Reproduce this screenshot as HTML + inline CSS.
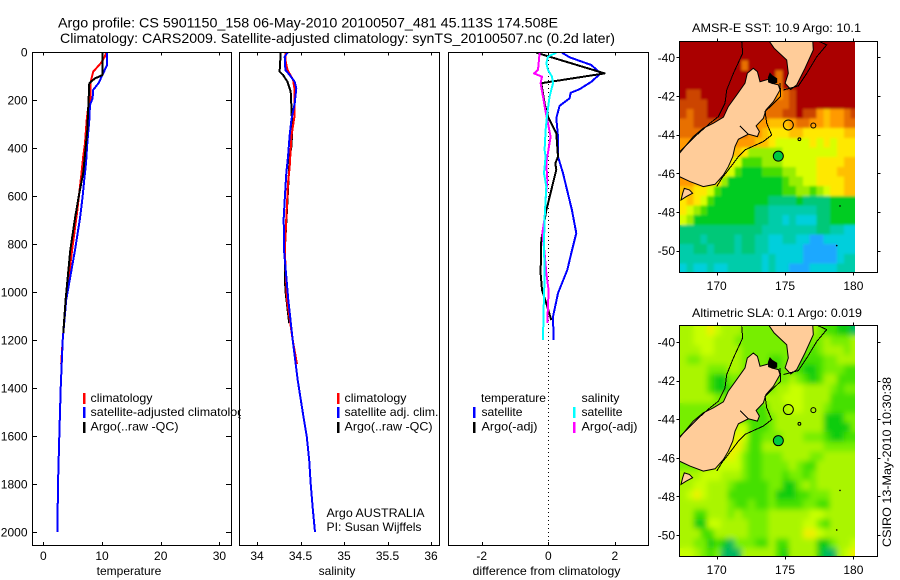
<!DOCTYPE html>
<html lang="en">
<head>
<meta charset="utf-8">
<title>Argo profile chart</title>
<style>
html,body{margin:0;padding:0;background:#fff;}
svg{display:block;font-family:"Liberation Sans",sans-serif;font-size:12px;fill:#000;}
.frame{fill:none;stroke:#000;stroke-width:1;shape-rendering:crispEdges;}
.tick{stroke:#000;stroke-width:1;shape-rendering:crispEdges;}
.series{fill:none;stroke-width:2;shape-rendering:crispEdges;stroke-linejoin:round;}
.bar{shape-rendering:crispEdges;}
</style>
</head>
<body>
<svg id="chart" xmlns="http://www.w3.org/2000/svg" width="900" height="580" viewBox="0 0 900 580">
<defs>
<clipPath id="temp-clip"><rect x="32" y="52" width="199.5" height="493"/></clipPath>
<clipPath id="sal-clip"><rect x="239.5" y="52" width="200" height="493"/></clipPath>
<clipPath id="diff-clip"><rect x="448.5" y="52" width="200" height="493"/></clipPath>
<clipPath id="legend-clip"><rect x="80" y="385" width="161" height="60"/></clipPath>
<clipPath id="sst-clip"><rect x="679.5" y="41.5" width="175.5" height="231.5"/></clipPath>
<clipPath id="sla-clip"><rect x="679.5" y="325.5" width="175.5" height="231.5"/></clipPath>
<filter id="blur-sst" x="-5%" y="-5%" width="110%" height="110%"><feGaussianBlur stdDeviation="1.3"/></filter>
<filter id="blur-sla" x="-5%" y="-5%" width="110%" height="110%"><feGaussianBlur stdDeviation="3"/></filter>
</defs>

<text x="58" y="27.5" font-size="14" textLength="500" lengthAdjust="spacingAndGlyphs">Argo profile: CS 5901150_158 06-May-2010 20100507_481 45.113S 174.508E</text>
<text x="60" y="43" font-size="14" textLength="555" lengthAdjust="spacingAndGlyphs">Climatology: CARS2009. Satellite-adjusted climatology: synTS_20100507.nc (0.2d later)</text>

<g id="temp-series" clip-path="url(#temp-clip)"></g>
<g id="sal-series" clip-path="url(#sal-clip)"></g>
<g id="diff-series" clip-path="url(#diff-clip)"></g>
<g id="ticks"></g>

<rect class="frame" x="32.5" y="52.5" width="199" height="493"/>
<rect class="frame" x="239.5" y="52.5" width="200" height="493"/>
<rect class="frame" x="448.5" y="52.5" width="200" height="493"/>

<text x="129" y="575" text-anchor="middle">temperature</text>
<text x="337" y="575" text-anchor="middle">salinity</text>
<text x="546.5" y="575" text-anchor="middle" textLength="148" lengthAdjust="spacingAndGlyphs">difference from climatology</text>

<g clip-path="url(#legend-clip)">
<rect class="bar" x="83" y="393" width="2.5" height="11" fill="#ff0000"/>
<text x="90.5" y="402" textLength="62" lengthAdjust="spacingAndGlyphs">climatology</text>
<rect class="bar" x="83" y="407" width="2.5" height="11" fill="#0000ff"/>
<text x="90.5" y="416" textLength="160" lengthAdjust="spacingAndGlyphs">satellite-adjusted climatology</text>
<rect class="bar" x="83" y="422" width="2.5" height="11" fill="#000"/>
<text x="90.5" y="430.5" textLength="88" lengthAdjust="spacingAndGlyphs">Argo(..raw -QC)</text>
</g>

<g>
<rect class="bar" x="337" y="393" width="2.5" height="11" fill="#ff0000"/>
<text x="344.5" y="402" textLength="62" lengthAdjust="spacingAndGlyphs">climatology</text>
<rect class="bar" x="337" y="407" width="2.5" height="11" fill="#0000ff"/>
<text x="344.5" y="416" textLength="94" lengthAdjust="spacingAndGlyphs">satellite adj. clim.</text>
<rect class="bar" x="337" y="422" width="2.5" height="11" fill="#000"/>
<text x="344.5" y="430.5" textLength="88" lengthAdjust="spacingAndGlyphs">Argo(..raw -QC)</text>
</g>

<text x="326.5" y="517" textLength="98" lengthAdjust="spacingAndGlyphs">Argo AUSTRALIA</text>
<text x="326.5" y="531" textLength="95" lengthAdjust="spacingAndGlyphs">PI: Susan Wijffels</text>

<g>
<text x="481" y="402" textLength="65" lengthAdjust="spacingAndGlyphs">temperature</text>
<rect class="bar" x="473" y="407" width="2.5" height="11" fill="#0000ff"/>
<text x="481.5" y="416" textLength="41" lengthAdjust="spacingAndGlyphs">satellite</text>
<rect class="bar" x="473" y="422" width="2.5" height="11" fill="#000"/>
<text x="481.5" y="430.5" textLength="56" lengthAdjust="spacingAndGlyphs">Argo(-adj)</text>
<text x="581.5" y="402" textLength="38" lengthAdjust="spacingAndGlyphs">salinity</text>
<rect class="bar" x="573" y="407" width="2.5" height="11" fill="#00ffff"/>
<text x="581.5" y="416" textLength="41" lengthAdjust="spacingAndGlyphs">satellite</text>
<rect class="bar" x="573" y="422" width="2.5" height="11" fill="#ff00ff"/>
<text x="581.5" y="430.5" textLength="56" lengthAdjust="spacingAndGlyphs">Argo(-adj)</text>
</g>

<text x="692" y="32" textLength="169" lengthAdjust="spacingAndGlyphs">AMSR-E SST: 10.9 Argo: 10.1</text>
<text x="692" y="317" textLength="170" lengthAdjust="spacingAndGlyphs">Altimetric SLA: 0.1 Argo: 0.019</text>

<g id="sst-map" clip-path="url(#sst-clip)">
<g id="sst-cells"></g>
<use href="#sst-cells" filter="url(#blur-sst)"/>
</g>
<g id="sla-map" clip-path="url(#sla-clip)">
<g id="sla-cells"></g>
<use href="#sla-cells" filter="url(#blur-sla)"/>
</g>
<rect class="frame" x="679.5" y="41.5" width="198" height="231"/>
<rect class="frame" x="679.5" y="325.5" width="198" height="231"/>

<text transform="translate(891 547) rotate(-90)" textLength="170" lengthAdjust="spacingAndGlyphs">CSIRO 13-May-2010 10:30:38</text>
</svg>

<script>
var depthTicks = [0,200,400,600,800,1000,1200,1400,1600,1800,2000];
var tempTicks = [0,10,20,30];
var salTicks = [34,34.5,35,35.5,36];
var salTickLabels = ['34','34.5','35','35.5','36'];
var diffTicks = [-2,0,2];
var lonTicks = [170,175,180];
var latTicks = [-40,-42,-44,-46,-48,-50];

var climTempDepth = [3,19,47,82,124,193,228,283,380,436,505,561,671,825,1033,1200,1300];
var climTemp = [10.68,10.5,9.78,8.5,8.07,8.07,7.67,7.4,7.1,6.8,6.5,6.25,5.74,4.9,3.85,3.3,3.05];
var satTempDepth = [3,54,89,130,158,193,221,283,380,464,526,603,693,825,1033,1200,1400,1600,1800,2000];
var satTemp = [10.85,10.85,10.2,9.4,8.5,8.4,7.96,7.84,7.5,7.27,7.0,6.7,6.25,5.4,3.9,3.3,2.96,2.73,2.5,2.4];
var argoTempDepth = [3,96,110,130,228,325,505,588,693,825,1033,1170];
var argoTemp = [10.1,10.1,8.8,7.84,7.67,7.5,6.8,6.13,5.4,4.6,3.8,3.4];

var climSalDepth = [3,33,75,115,158,262,352,477,547,693,825,1033,1200,1300];
var climSal = [34.326,34.326,34.35,34.414,34.433,34.433,34.395,34.376,34.356,34.337,34.32,34.345,34.41,34.46];
var satSalDepth = [3,19,75,96,124,151,214,283,346,436,505,616,693,825,1033,1200,1367,1500,1600,1700,1800,1900,2000];
var satSal = [34.35,34.318,34.326,34.376,34.433,34.452,34.433,34.395,34.376,34.356,34.337,34.318,34.307,34.31,34.36,34.41,34.468,34.525,34.571,34.6,34.617,34.64,34.667];
var argoSalDepth = [3,82,96,124,165,228,325,394,436,617,825,990,1130];
var argoSal = [34.272,34.26,34.3,34.35,34.387,34.395,34.406,34.395,34.376,34.35,34.32,34.325,34.37];

var diffTempSatDepth = [3,22,54,89,124,155,170,193,224,276,353,436,505,589,658,755,838,908,1005,1103,1200];
var diffTempSat = [0.41,0.64,1.29,1.57,1.29,0.94,0.67,0.64,0.34,0.24,0.29,0.29,0.44,0.59,0.71,0.84,0.69,0.57,0.29,0.14,0.16];
var diffTempArgoDepth = [3,89,130,214,269,339,436,464,491,575,660,783,921,992,1047,1117];
var diffTempArgo = [-0.36,1.69,-0.21,-0.11,-0.01,0.24,0.29,0.21,0.24,0.09,-0.06,-0.21,-0.23,-0.19,-0.06,0.09];
var diffSalArgoDepth = [3,75,89,103,130,186,242,283,353,436,464,533,616,693,755,838,921,992,1129];
var diffSalArgo = [-0.26,-0.31,-0.43,-0.19,-0.23,-0.16,-0.09,-0.03,0.07,-0.03,-0.06,-0.03,-0.08,-0.11,-0.18,-0.11,-0.06,0.01,-0.03];
var diffSalSatDepth = [3,19,47,75,103,130,186,255,325,408,436,505,561,693,797,935,1075,1200];
var diffSalSat = [0.24,-0.01,-0.06,-0.01,0.11,0.14,0.04,-0.03,-0.08,-0.11,-0.08,-0.13,-0.06,-0.11,-0.13,-0.11,-0.14,-0.16];

var sstLevelColors = ['#1aa8ff','#00cfdc','#00ccaa','#00c878','#00cc22','#44dd00','#99ee00','#d8ff00','#ffe800','#ffc000','#ff9a00','#e87000','#cc4400','#aa0000'];
var sstValues = [
[13,13,13,13,13,13,13,13,13,13,13,13,13,13,13,13,13,13,13,13,13,13,13,13,13,13],
[13,13,13,13,13,13,13,13,13,13,13,13,13,13,13,13,13,13,13,13,13,13,13,13,13,13],
[13,13,13,13,13,13,13,13,13,11,13,13,13,13,13,13,13,13,13,13,13,13,13,13,13,13],
[13,13,13,13,13,13,13,13,13,13,13,13,13,13,11,13,13,13,13,13,13,13,13,13,13,13],
[13,13,13,13,13,13,13,13,13,13,13,13,13,11,11,13,13,13,13,13,13,13,13,13,13,13],
[13,12,12,13,13,13,13,13,13,13,13,13,13,11,10,11,12,13,13,13,13,13,13,13,13,13],
[12,12,12,12,13,13,13,13,13,13,13,13,11,11,11,11,12,13,13,13,13,13,13,13,13,13],
[12,11,12,12,13,13,13,13,13,13,13,11,11,11,11,12,12,13,12,12,10,9,10,10,11,12],
[11,11,12,12,12,12,12,12,12,12,10,10,10,9,9,9,10,11,11,10,10,9,10,10,11,11],
[11,11,11,11,11,11,11,11,11,11,10,10,9,8,8,8,9,9,8,8,8,8,8,8,9,9],
[10,10,10,10,10,10,10,10,10,10,10,9,9,8,7,7,7,7,7,8,7,8,7,8,8,8],
[10,10,10,10,10,10,10,9,9,8,6,6,6,6,6,7,7,7,7,7,7,7,7,8,8,8],
[10,10,10,10,10,10,9,8,7,5,5,5,6,6,6,7,7,7,7,7,8,8,8,8,9,9],
[10,10,10,10,10,9,8,7,5,4,4,4,5,5,5,6,6,7,7,7,8,8,8,9,9,9],
[10,10,9,9,9,8,6,4,4,4,4,4,4,4,4,5,6,6,7,7,8,8,8,8,9,9],
[9,9,8,8,7,5,4,4,4,4,4,4,4,4,4,5,5,6,6,5,6,7,8,8,9,9],
[8,9,8,7,5,4,4,4,4,4,4,4,4,3,3,3,3,4,3,3,3,3,4,4,4,4],
[8,7,6,5,4,4,4,4,4,4,4,3,3,2,2,2,2,2,2,2,3,3,4,4,4,4],
[7,6,4,4,4,4,4,4,4,4,4,3,3,2,2,1,2,1,1,1,3,3,4,4,4,4],
[3,3,3,3,3,3,3,3,3,3,3,3,2,2,2,2,2,2,2,2,3,3,2,2,1,1],
[3,3,3,2,3,3,3,3,2,3,3,2,2,1,1,2,2,1,1,0,0,1,1,1,1,1],
[2,2,3,3,2,3,3,3,2,3,3,2,2,1,1,1,1,1,0,0,0,0,0,1,1,1],
[2,2,2,2,2,2,2,2,2,2,2,2,1,2,1,1,1,1,0,0,0,0,0,1,2,2],
[1,2,1,1,2,1,1,2,2,2,2,2,1,2,1,1,0,0,0,1,1,1,1,2,2,2]
];

var slaLevelColors = ['#00b860','#11cc11','#44e000','#77ee00','#aaf500','#c8ff00','#eef000'];
var slaValues = [
[4,4,5,5,6,5,4,4,4,3,3,3,3,3,3,3,3,3,3,4,3,2,2,1,1,0],
[4,4,5,5,5,4,4,4,3,3,3,3,3,3,3,3,3,3,3,3,3,4,3,3,3,4],
[4,4,4,5,5,4,4,4,4,3,3,3,3,3,3,3,3,3,3,2,3,4,4,4,3,4],
[4,3,3,4,4,4,4,4,4,3,3,3,3,2,2,3,3,2,2,2,2,3,3,4,4,4],
[4,4,4,4,3,3,3,4,4,3,3,3,3,3,2,3,2,2,1,1,2,3,3,3,2,2],
[4,4,4,4,2,1,1,3,3,3,3,3,3,3,3,3,4,3,2,1,2,4,4,2,2,2],
[4,4,4,4,2,1,1,2,3,3,3,3,3,3,4,4,5,5,4,4,4,4,3,2,3,3],
[4,4,4,4,4,3,3,3,3,3,3,3,4,4,4,5,5,5,4,4,4,4,2,2,2,2],
[3,3,3,3,3,3,3,3,3,3,3,2,2,4,4,4,5,5,4,4,4,3,2,2,2,2],
[3,3,3,3,3,3,3,3,3,2,2,2,2,3,4,4,4,4,4,4,4,1,1,1,3,3],
[3,3,3,3,3,3,3,4,5,5,2,2,2,3,4,4,4,4,4,4,4,1,1,1,1,3],
[3,3,3,3,3,3,3,5,6,5,2,2,3,3,3,4,4,4,3,3,3,2,1,1,2,2],
[3,3,3,3,3,4,4,6,6,4,2,2,4,4,4,4,4,4,4,4,4,3,3,3,3,3],
[3,3,3,3,4,4,5,6,5,3,2,2,3,3,3,4,4,4,4,3,3,4,4,4,4,4],
[3,3,3,4,4,5,5,5,5,3,2,2,3,3,3,3,4,3,2,2,4,4,4,4,4,4],
[4,4,4,5,5,5,4,4,4,3,2,2,3,3,3,2,3,3,2,3,4,4,4,4,4,4],
[4,4,5,5,4,4,4,3,2,2,2,2,2,3,3,1,1,3,4,3,4,4,4,4,4,4],
[4,5,6,5,4,4,4,2,2,2,2,2,2,3,1,1,1,2,2,3,3,3,4,4,4,4],
[4,4,4,4,4,4,4,3,2,2,3,2,2,3,2,2,2,2,3,3,2,2,4,4,4,4],
[4,4,2,2,4,4,4,3,4,3,3,3,3,4,4,4,4,4,4,5,5,4,4,4,4,4],
[4,4,1,1,5,5,4,4,4,4,3,3,3,4,4,4,4,4,5,5,3,2,4,4,4,4],
[4,4,4,2,2,4,4,4,4,4,3,3,3,4,4,4,4,4,6,6,5,4,4,4,4,4],
[4,4,3,3,1,2,1,0,3,3,3,2,2,4,2,2,4,4,4,4,1,1,3,4,4,5],
[5,5,4,3,2,3,0,0,0,4,4,4,4,4,2,1,4,4,4,4,1,0,0,4,5,6]
];

var southIslandLon = [167.27,168.29,169.02,169.76,170.49,170.85,171.46,172.07,172.24,172.68,172.98,173.17,173.78,174.02,174.51,174.63,174.15,173.61,173.41,172.88,173.12,172.98,172.32,171.59,171.34,171.17,170.85,170.49,169.88,169.02,168.05,167.27];
var southIslandLat = [-44.97,-44.1,-43.67,-43.41,-43.1,-42.55,-41.95,-41.34,-40.83,-40.57,-40.74,-41.26,-41.14,-41.34,-41.43,-41.69,-42.29,-42.72,-43.16,-43.55,-43.84,-44.1,-43.98,-44.24,-44.62,-45.14,-45.66,-46.09,-46.57,-46.69,-46.43,-46.17];
var northIslandLon = [173.78,174.2,175.12,175.24,175.0,175.41,175.85,176.46,177.07,177.02];
var northIslandLat = [-39.1,-39.53,-40.14,-40.83,-41.34,-41.66,-41.43,-40.57,-39.62,-39.1];
var stewartIslandLon = [167.63,168.0,168.24,167.76,167.39,167.51];
var stewartIslandLat = [-46.78,-46.86,-47.03,-47.21,-47.38,-47.03];
var soundsLon = [173.78,173.9,174.05,174.39,174.39,174.1,173.8];
var soundsLat = [-41.05,-40.83,-40.95,-41.1,-41.3,-41.36,-41.28];

var westShelfLon = [171.83,171.9,171.22,170.73,170.61,170.12,169.51,168.54,167.32];
var westShelfLat = [-39.19,-39.79,-40.83,-41.69,-42.38,-43.07,-43.41,-44.02,-44.88];
var northEastShelfLon = [174.88,175.98,176.59,177.32,178.05,177.44];
var northEastShelfLat = [-41.69,-41.48,-40.83,-39.97,-39.36,-39.16];
var southEastShelfLon = [174.63,174.68,173.54,173.66,174.02,173.41,172.07,171.59,170.85,170.37,170.0];
var southEastShelfLat = [-41.34,-42.03,-42.81,-43.41,-44.02,-44.36,-44.79,-45.14,-45.83,-46.26,-46.69];
var inletLon = [171.71,172.32];
var inletLat = [-43.55,-43.98];

var seamountLon = [175.24,177.07,176.05];
var seamountLat = [-43.5,-43.53,-44.24];
var seamountSize = [5,2.5,1.4];
var reefLon = [179.02,178.78];
var reefLat = [-47.69,-49.74];
var argoLon = 174.508;
var argoLat = -45.113;

var svgNS = 'http://www.w3.org/2000/svg';
function yDepth(d){ return 52 + 0.24 * d; }
function xTemp(t){ return 43.3 + 5.87 * t; }
function xSal(s){ return 257 + 87 * (s - 34); }
function xDiff(v){ return 548.3 + 33.3 * v; }
function xLon(lon){ return 716.7 + 13.67 * (lon - 170); }
function ySst(lat){ return 57.3 + 19.33 * (-40 - lat); }
function ySla(lat){ return 342 + 19.3 * (-40 - lat); }

function make(tag, parent){
  var el = document.createElementNS(svgNS, tag);
  parent.appendChild(el);
  return el;
}
function pointsFrom(xs, ys, xf, yf){
  var out = [];
  for (var i = 0; i < xs.length; i++) out.push(xf(xs[i]).toFixed(1) + ',' + yf(ys[i]).toFixed(1));
  return out.join(' ');
}
function drawProfile(parent, name, color, values, depths, xf, width){
  var line = make('polyline', parent);
  
  
  line.setAttribute('class', 'series');
  line.setAttribute('stroke', color);
  line.setAttribute('stroke-width', width);
  line.setAttribute('points', pointsFrom(values, depths, xf, yDepth));
}

var tempG = document.getElementById('temp-series');
drawProfile(tempG, 'temperature-climatology-line', '#ff0000', climTemp, climTempDepth, xTemp, 2);
drawProfile(tempG, 'temperature-satellite-adjusted-line', '#0000ff', satTemp, satTempDepth, xTemp, 2);
drawProfile(tempG, 'temperature-argo-line', '#000000', argoTemp, argoTempDepth, xTemp, 2);

var salG = document.getElementById('sal-series');
drawProfile(salG, 'salinity-argo-line', '#000000', argoSal, argoSalDepth, xSal, 2);
drawProfile(salG, 'salinity-climatology-line', '#ff0000', climSal, climSalDepth, xSal, 2);
drawProfile(salG, 'salinity-satellite-adjusted-line', '#0000ff', satSal, satSalDepth, xSal, 2);

var diffG = document.getElementById('diff-series');
var zeroLine = make('line', diffG);


zeroLine.setAttribute('x1', xDiff(0));
zeroLine.setAttribute('x2', xDiff(0));
zeroLine.setAttribute('y1', 52);
zeroLine.setAttribute('y2', 545);
zeroLine.setAttribute('stroke', '#000');
zeroLine.setAttribute('stroke-dasharray', '1 3');
zeroLine.setAttribute('shape-rendering', 'crispEdges');
drawProfile(diffG, 'difference-temperature-satellite-line', '#0000ff', diffTempSat, diffTempSatDepth, xDiff, 2);
drawProfile(diffG, 'difference-temperature-argo-line', '#000000', diffTempArgo, diffTempArgoDepth, xDiff, 2);
drawProfile(diffG, 'difference-salinity-argo-line', '#ff00ff', diffSalArgo, diffSalArgoDepth, xDiff, 2);
drawProfile(diffG, 'difference-salinity-satellite-line', '#00ffff', diffSalSat, diffSalSatDepth, xDiff, 2);

var ticksG = document.getElementById('ticks');
function tickLine(x1, y1, x2, y2){
  var t = make('line', ticksG);
  
  
  t.setAttribute('class', 'tick');
  t.setAttribute('x1', x1);
  t.setAttribute('y1', y1);
  t.setAttribute('x2', x2);
  t.setAttribute('y2', y2);
}
function tickLabel(x, y, str, anchor){
  var t = make('text', ticksG);
  
  
  t.setAttribute('x', x);
  t.setAttribute('y', y);
  t.setAttribute('text-anchor', anchor);
  t.textContent = str;
}
depthTicks.forEach(function(d){
  var y = Math.round(yDepth(d)) + 0.5;
  tickLine(32, y, 37, y);
  tickLine(226, y, 231, y);
  tickLabel(27.5, yDepth(d) + 4.5, String(d), 'end');
});
function bottomAxis(values, labels, xf){
  values.forEach(function(v, i){
    var x = Math.round(xf(v)) + 0.5;
    tickLine(x, 52, x, 55.5);
    tickLine(x, 542, x, 545.5);
    tickLabel(xf(v), 560, labels[i], 'middle');
  });
}
bottomAxis(tempTicks, tempTicks.map(String), xTemp);
bottomAxis(salTicks, salTickLabels, xSal);
bottomAxis(diffTicks, diffTicks.map(String), xDiff);

function mapAxes(yf, top, bottom, labelY){
  lonTicks.forEach(function(lon){
    var x = Math.round(xLon(lon)) + 0.5;
    tickLine(x, top - 3, x, top);
    tickLine(x, bottom, x, bottom + 3);
    tickLabel(xLon(lon), labelY, String(lon), 'middle');
  });
  latTicks.forEach(function(lat){
    var y = Math.round(yf(lat)) + 0.5;
    tickLine(676.5, y, 679.5, y);
    tickLine(877.5, y, 880.5, y);
    tickLabel(675, yf(lat) + 4.5, String(lat), 'end');
  });
}
mapAxes(ySst, 41.5, 272.5, 290);
mapAxes(ySla, 325.5, 556.5, 574);

function drawCells(parent, values, colors, yf, cellName){
  for (var r = 0; r < values.length; r++){
    for (var c = 0; c < values[r].length; c++){
      var lonA = 167.3 + 0.5 * c;
      var latA = -39.17 - 0.5 * r;
      var cell = make('rect', parent);
      
      
      cell.setAttribute('shape-rendering', 'crispEdges');
      cell.setAttribute('x', xLon(lonA).toFixed(2));
      cell.setAttribute('y', yf(latA).toFixed(2));
      cell.setAttribute('width', (xLon(lonA + 0.5) - xLon(lonA) + 0.5).toFixed(2));
      cell.setAttribute('height', (yf(latA - 0.5) - yf(latA) + 0.5).toFixed(2));
      cell.setAttribute('fill', colors[values[r][c]]);
    }
  }
}
function landShape(parent, name, lons, lats, yf, fill){
  var p = make('polygon', parent);
  
  
  p.setAttribute('fill', fill);
  p.setAttribute('stroke', '#000');
  p.setAttribute('stroke-width', '1');
  p.setAttribute('points', pointsFrom(lons, lats, xLon, yf));
}
function contour(parent, name, lons, lats, yf){
  var p = make('polyline', parent);
  
  
  p.setAttribute('fill', 'none');
  p.setAttribute('stroke', '#000');
  p.setAttribute('stroke-width', '1');
  p.setAttribute('shape-rendering', 'crispEdges');
  p.setAttribute('points', pointsFrom(lons, lats, xLon, yf));
}
function overlay(parent, yf, markerColor){
  landShape(parent, 'south-island', southIslandLon, southIslandLat, yf, '#ffcc99');
  landShape(parent, 'north-island', northIslandLon, northIslandLat, yf, '#ffcc99');
  landShape(parent, 'stewart-island', stewartIslandLon, stewartIslandLat, yf, '#ffcc99');
  landShape(parent, 'marlborough-sounds', soundsLon, soundsLat, yf, '#000000');
  contour(parent, 'west-shelf-contour', westShelfLon, westShelfLat, yf);
  contour(parent, 'north-east-shelf-contour', northEastShelfLon, northEastShelfLat, yf);
  contour(parent, 'south-east-shelf-contour', southEastShelfLon, southEastShelfLat, yf);
  contour(parent, 'canterbury-inlet-line', inletLon, inletLat, yf);
  seamountLon.forEach(function(lon, i){
    var s = make('circle', parent);
    
    
    s.setAttribute('cx', xLon(lon));
    s.setAttribute('cy', yf(seamountLat[i]));
    s.setAttribute('r', seamountSize[i]);
    s.setAttribute('fill', 'none');
    s.setAttribute('stroke', '#000');
  });
  reefLon.forEach(function(lon, i){
    var s = make('circle', parent);
    
    
    s.setAttribute('cx', xLon(lon));
    s.setAttribute('cy', yf(reefLat[i]));
    s.setAttribute('r', 0.8);
    s.setAttribute('fill', '#000');
  });
  var m = make('circle', parent);
  
  
  m.setAttribute('cx', xLon(argoLon));
  m.setAttribute('cy', yf(argoLat));
  m.setAttribute('r', 5);
  m.setAttribute('fill', markerColor);
  m.setAttribute('stroke', '#000');
}
drawCells(document.getElementById('sst-cells'), sstValues, sstLevelColors, ySst, 'sst-cell');
overlay(document.getElementById('sst-map'), ySst, '#00c840');
drawCells(document.getElementById('sla-cells'), slaValues, slaLevelColors, ySla, 'sla-cell');
overlay(document.getElementById('sla-map'), ySla, '#00cc40');
</script>
</body>
</html>
